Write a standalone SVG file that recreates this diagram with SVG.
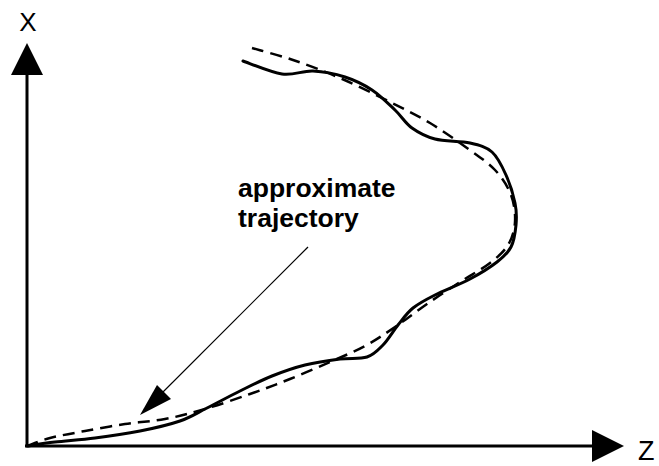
<svg xmlns="http://www.w3.org/2000/svg" width="659" height="466" viewBox="0 0 659 466">
<style>
.axis{stroke:#000;stroke-width:3;fill:none}
.head{fill:#000;stroke:none}
.solid{stroke:#000;stroke-width:3;fill:none;stroke-linejoin:round;stroke-linecap:round}
.dash{stroke:#000;stroke-width:2.5;fill:none;stroke-dasharray:12 7;stroke-linejoin:round}
.lbl{font-family:"Liberation Sans",Arial,sans-serif;fill:#000}
</style>
<rect width="659" height="466" fill="#fff"/>
<g id="axes">
<line class="axis" x1="27" y1="447" x2="27" y2="72"/>
<polygon class="head" points="27,43 43,75 11,75"/>
<line class="axis" x1="25" y1="446" x2="594" y2="446"/>
<polygon class="head" points="624,446 592,430 592,462"/>
<text class="lbl" x="28" y="31" font-size="26" text-anchor="middle">X</text>
<text class="lbl" x="638" y="460" font-size="27">Z</text>
</g>
<g id="trajectory">
<path class="solid" d="M243,61 C249.5,63.2 270.3,72.3 282,74 C293.7,75.7 302.5,70.5 313,71 C323.5,71.5 335.2,73.8 345,77 C354.8,80.2 363.7,84.5 372,90 C380.3,95.5 388.3,103.7 395,110 C401.7,116.3 405.3,123.2 412,128 C418.7,132.8 425.3,136.5 435,139 C444.7,141.5 460.5,140.8 470,143 C479.5,145.2 486,146.7 492,152 C498,157.3 502.2,166.5 506,175 C509.8,183.5 513.3,194.7 515,203 C516.7,211.3 516.7,217.7 516,225 C515.3,232.3 514.2,240.8 511,247 C507.8,253.2 503.8,256.7 497,262 C490.2,267.3 480.3,273.5 470,279 C459.7,284.5 444.5,290.2 435,295 C425.5,299.8 419.2,303 413,308 C406.8,313 403,318.8 398,325 C393,331.2 388.2,339.7 383,345 C377.8,350.3 374.2,354.7 367,357 C359.8,359.3 350.3,357.7 340,359 C329.7,360.3 316.3,362.2 305,365 C293.7,367.8 282.8,371.7 272,376 C261.2,380.3 250.8,385.7 240,391 C229.2,396.3 217,403 207,408 C197,413 191.2,417.2 180,421 C168.8,424.8 154.2,428.2 140,431 C125.8,433.8 109.2,436.2 95,438 C80.8,439.8 66.3,440.7 55,442 C43.7,443.3 31.7,445.3 27,446"/>
</g>
<g id="approximate">
<path class="dash" d="M252,48 C258.8,50 278.3,55 293,60 C307.7,65 323.8,71 340,78 C356.2,85 375,94.5 390,102 C405,109.5 417.2,115.3 430,123 C442.8,130.7 456.2,140.2 467,148 C477.8,155.8 487.7,162.2 495,170 C502.3,177.8 507.7,186.3 511,195 C514.3,203.7 515.5,213.7 515,222 C514.5,230.3 512.2,238.2 508,245 C503.8,251.8 498,256.8 490,263 C482,269.2 470.5,275.2 460,282 C449.5,288.8 437.8,296.5 427,304 C416.2,311.5 405.3,320 395,327 C384.7,334 375.8,340.2 365,346 C354.2,351.8 342.5,356.5 330,362 C317.5,367.5 303.3,373.7 290,379 C276.7,384.3 264.2,389 250,394 C235.8,399 219.2,404.8 205,409 C190.8,413.2 178.3,416.5 165,419 C151.7,421.5 138.3,422 125,424 C111.7,426 97.5,428.7 85,431 C72.5,433.3 59.7,435.5 50,438 C40.3,440.5 30.8,444.7 27,446"/>
</g>
<g id="label">
<text class="lbl" x="238" y="197" font-size="26.5" font-weight="bold">approximate</text>
<text class="lbl" x="238" y="227" font-size="26.5" font-weight="bold">trajectory</text>
</g>
<g id="connectors">
<line x1="308" y1="247" x2="155" y2="400" stroke="#000" stroke-width="1.2"/>
<polygon class="head" points="140,415 157,385 171,399"/>
</g>
</svg>
